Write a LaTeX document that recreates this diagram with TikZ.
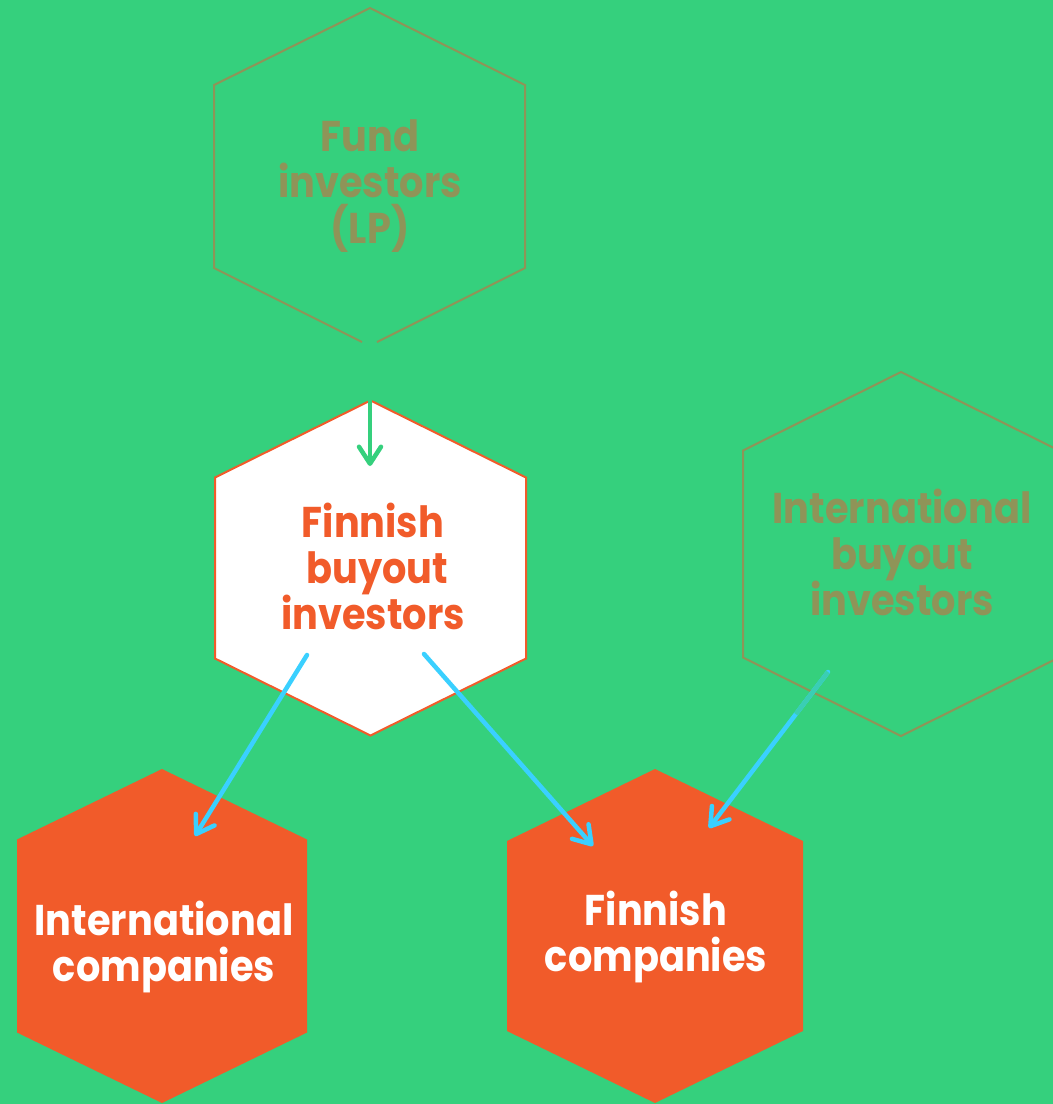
\documentclass[tikz,border=0pt]{standalone}
\usepackage{fontspec}
\setmainfont{Poppins}[FakeStretch=0.89]
\usetikzlibrary{arrows.meta,calc}
\definecolor{bg}{RGB}{53,208,125}
\definecolor{olive}{RGB}{143,148,88}
\definecolor{orng}{RGB}{241,91,42}
\definecolor{sky}{RGB}{58,208,255}
\definecolor{tealseg}{RGB}{58,206,180}
\newcommand\myhex[6]{%
  \path[#1] ({#2},{#3-#5}) -- ({#2+#4},{#3-#6}) -- ({#2+#4},{#3+#6}) --
    ({#2},{#3+#5}) -- ({#2-#4},{#3+#6}) -- ({#2-#4},{#3-#6}) -- cycle;}
\begin{document}
\begin{tikzpicture}[x=1pt,y=-1pt,
  lbl/.style={align=center,font=\fontsize{43}{46}\selectfont\bfseries,inner sep=0pt},
  arr/.style={line width=4.5pt,line cap=round,
    -{Straight Barb[length=17pt,width=22pt,line cap=round,line join=round]}},
  outlinehex/.style={draw=olive,line width=2pt},
]
\path[use as bounding box,fill=bg] (0,0) rectangle (1053,1104);
\clip (0,0) rectangle (1053,1104);

% hexagons
\draw[outlinehex] (377,342) -- (525,268) -- (525,85) -- (370,8) -- (214,85) -- (214,268) -- (362,342);
\myhex{fill=white,draw=orng,line width=2pt}{370.5}{568}{155.5}{167.5}{90.5}
\myhex{outlinehex}{901}{554}{158}{182}{103.5}
\myhex{fill=orng}{162}{936}{145}{167}{96.5}
\myhex{fill=orng}{655}{936}{148}{167}{95}

% labels
\node[lbl,text=olive] (fund) at (370,186) {Fund\\investors\\(LP)};
\node[lbl,text=orng] (fbi) at (373,566) {Finnish\\\ buyout\\investors};
\node[lbl,text=olive] (ibi) at (902,552) {International\\buyout\\investors};
\node[lbl,text=white] (ic) at (164,947) {International\\companies};
\node[lbl,text=white] (fc) at (656,937) {Finnish\\companies};

% connectors
\coordinate (g1) at (370,400); \coordinate (g2) at (370,466);
\coordinate (b1s) at (307,655); \coordinate (b1e) at (195,836);
\coordinate (b2s) at (424,654); \coordinate (b2e) at (593,846);
\coordinate (b3s) at (828,672); \coordinate (b3e) at (709,828);
\draw[arr,draw=bg] (g1) -- (g2);
\draw[arr,draw=sky] (b1s) -- (b1e);
\draw[arr,draw=sky] (b2s) -- (b2e);
\draw[arr,draw=sky] (b3s) -- (b3e);
\draw[line width=4.5pt,tealseg] (b3s) -- ($(b3s)!0.27!(b3e)$);
\end{tikzpicture}
\end{document}
